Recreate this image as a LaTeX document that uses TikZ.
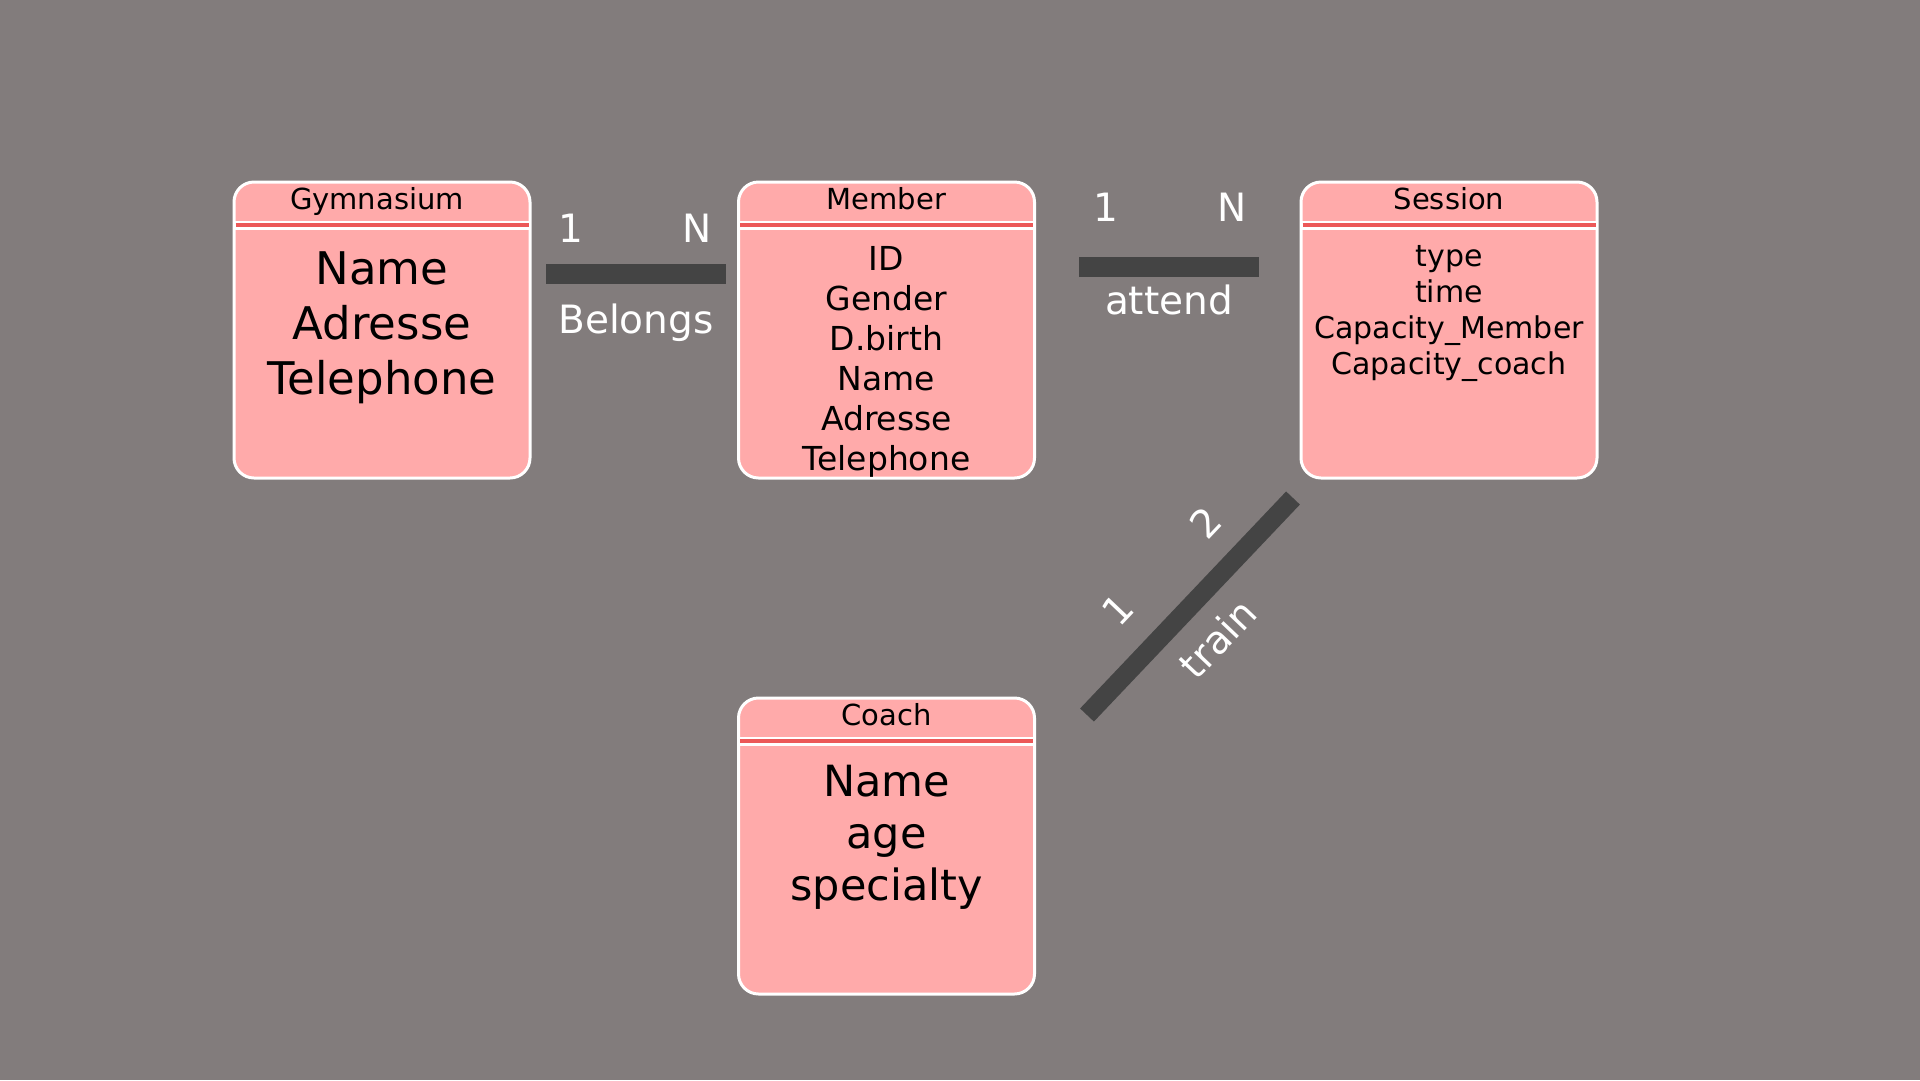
\documentclass[tikz,border=0pt]{standalone}
\usepackage{fontspec}
\setmainfont{DejaVu Sans}
\definecolor{backgray}{RGB}{130,124,124}
\definecolor{entpink}{RGB}{255,170,170}
\definecolor{sepred}{RGB}{236,88,88}
\definecolor{bardark}{RGB}{68,68,68}
\begin{document}
\begin{tikzpicture}[x=1pt, y=-1pt,
  entity/.style = {shape=rectangle, rounded corners=20pt,
    draw=white, line width=3pt, fill=entpink,
    minimum width=296pt, minimum height=296pt,
    inner sep=0pt, outer sep=0pt},
  head/.style = {font=\fontsize{29}{35}\selectfont,
    text height=21pt, text depth=0pt, inner sep=0pt},
  attrs/.style = {anchor=north, align=center, inner sep=0pt},
  bar/.style = {draw=bardark, line width=20pt},
  card/.style = {text=white, font=\fontsize{39}{47}\selectfont,
    inner sep=0pt, outer sep=0pt},
  ]
  \useasboundingbox[fill=backgray] (0,0) rectangle (1920,1080);

  \node[entity] (gym) at (382,330) {};
  \node[entity] (member) at (886.5,330) {};
  \node[entity] (session) at (1449,330) {};
  \node[entity] (coach) at (886.5,846) {};

  \foreach \e in {gym, member, session, coach} {
    \draw[white, line width=9pt] ([yshift=-43pt]\e.north west) -- ([yshift=-43pt]\e.north east);
    \draw[sepred, line width=4pt] ([xshift=1.5pt, yshift=-43pt]\e.north west) -- ([xshift=-1.5pt, yshift=-43pt]\e.north east);
  }

  \node[head] (gymhead) at ([xshift=-5pt, yshift=-17pt]gym.north) {Gymnasium};
  \node[head] (memberhead) at ([yshift=-17pt]member.north) {Member};
  \node[head] (sessionhead) at ([yshift=-17pt]session.north) {Session};
  \node[head] (coachhead) at ([yshift=-17pt]coach.north) {Coach};

  \node[attrs, font=\fontsize{45}{55}\selectfont] (gymattr) at ([yshift=-69pt]gym.north)
    {Name\\Adresse\\Telephone};
  \node[attrs, font=\fontsize{33}{40}\selectfont] (memberattr) at ([yshift=-64pt]member.north)
    {ID\\Gender\\D.birth\\Name\\Adresse\\Telephone};
  \node[attrs, font=\fontsize{30}{36}\selectfont] (sessionattr) at ([yshift=-63pt]session.north)
    {type\\time\\Capacity\_Member\\Capacity\_coach};
  \node[attrs, font=\fontsize{43}{52}\selectfont] (coachattr) at ([yshift=-67pt]coach.north)
    {Name\\age\\specialty};

  \draw[bar] ([shift={(16,-56)}]gym.east)
    -- node[card, pos=0.139, above=31.5pt] (belongsone) {1}
       node[card, pos=0.839, above=31.5pt] (belongsmany) {N}
       node[card, pos=0.5, below=30pt] (belongs) {Belongs}
    ([shift={(-12.5,-56)}]member.west);
  \draw[bar] ([shift={(44.5,-63)}]member.east)
    -- node[card, pos=0.15, above=45.5pt] (attendone) {1}
       node[card, pos=0.85, above=45.5pt] (attendmany) {N}
       node[card, pos=0.5, below=18pt] (attend) {attend}
    ([shift={(-42,-63)}]session.west);
  \draw[bar, line width=19pt] ([shift={(52.5,17)}]coach.north east)
    -- node[card, sloped, pos=0.326, above=36pt] (trainone) {1}
       node[card, sloped, pos=0.738, above=32pt] (traintwo) {2}
       node[card, sloped, pos=0.486, below=27pt] (train) {train}
    ([shift={(-8,20)}]session.south west);
\end{tikzpicture}
\end{document}
